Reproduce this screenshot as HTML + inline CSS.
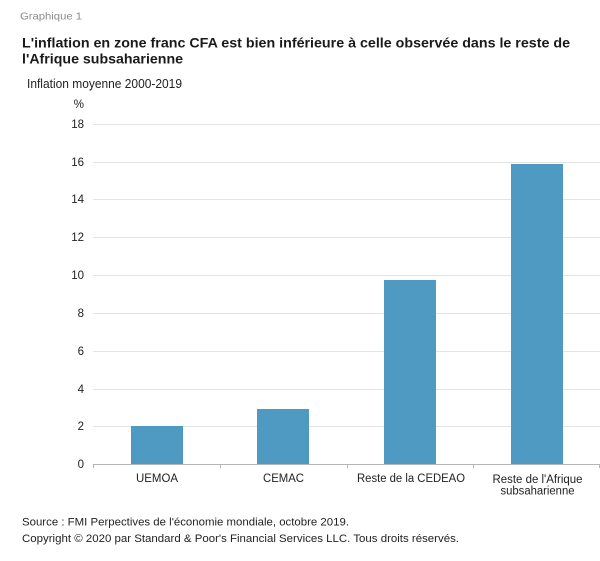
<!DOCTYPE html>
<html>
<head>
<meta charset="utf-8">
<style>
html,body{margin:0;padding:0;background:#fff;}
svg{display:block;}
text{font-family:"Liberation Sans",Arial,sans-serif;}
</style>
</head>
<body>
<svg width="600" height="561" viewBox="0 0 600 561" xmlns="http://www.w3.org/2000/svg">
<rect width="600" height="561" fill="#fff"/>
<text x="20" y="19.5" font-size="10.5" fill="#8a8a8a" textLength="62" lengthAdjust="spacingAndGlyphs">Graphique 1</text>
<text x="22" y="47.5" font-size="14" font-weight="bold" fill="#1a1a1a" textLength="548" lengthAdjust="spacingAndGlyphs">L'inflation en zone franc CFA est bien inférieure à celle observée dans le reste de</text>
<text x="22" y="63.5" font-size="14" font-weight="bold" fill="#1a1a1a" textLength="161" lengthAdjust="spacingAndGlyphs">l'Afrique subsaharienne</text>
<text x="27" y="88" font-size="12.5" fill="#222" textLength="155" lengthAdjust="spacingAndGlyphs">Inflation moyenne 2000-2019</text>
<text x="84" y="108" font-size="11.5" fill="#222" text-anchor="end">%</text>

<g stroke="#e4e4e4" stroke-width="1">
<line x1="93" y1="124.5" x2="600" y2="124.5"/>
<line x1="93" y1="162.5" x2="600" y2="162.5"/>
<line x1="93" y1="199.5" x2="600" y2="199.5"/>
<line x1="93" y1="237.5" x2="600" y2="237.5"/>
<line x1="93" y1="275.5" x2="600" y2="275.5"/>
<line x1="93" y1="313.5" x2="600" y2="313.5"/>
<line x1="93" y1="351.5" x2="600" y2="351.5"/>
<line x1="93" y1="389.5" x2="600" y2="389.5"/>
<line x1="93" y1="426.5" x2="600" y2="426.5"/>
</g>

<g font-size="11.5" fill="#222" text-anchor="end">
<text x="84" y="128">18</text>
<text x="84" y="166">16</text>
<text x="84" y="203">14</text>
<text x="84" y="241">12</text>
<text x="84" y="279">10</text>
<text x="84" y="317">8</text>
<text x="84" y="355">6</text>
<text x="84" y="393">4</text>
<text x="84" y="430">2</text>
<text x="84" y="468">0</text>
</g>

<g fill="#4e9ac3">
<rect x="131" y="426" width="52" height="38"/>
<rect x="257" y="409" width="52" height="55"/>
<rect x="384" y="280" width="52" height="184"/>
<rect x="511" y="164" width="52" height="300"/>
</g>

<g stroke="#b5b5b5" stroke-width="1">
<line x1="93" y1="464.5" x2="600" y2="464.5"/>
<line x1="93.5" y1="464" x2="93.5" y2="468"/>
<line x1="220.5" y1="464" x2="220.5" y2="468"/>
<line x1="347.5" y1="464" x2="347.5" y2="468"/>
<line x1="473.5" y1="464" x2="473.5" y2="468"/>
<line x1="599.5" y1="464" x2="599.5" y2="468"/>
</g>

<g font-size="11.5" fill="#222" text-anchor="middle">
<text x="157" y="482" textLength="42" lengthAdjust="spacingAndGlyphs">UEMOA</text>
<text x="283.5" y="482" textLength="41" lengthAdjust="spacingAndGlyphs">CEMAC</text>
<text x="411" y="482" textLength="108" lengthAdjust="spacingAndGlyphs">Reste de la CEDEAO</text>
<text x="537.5" y="483" textLength="90" lengthAdjust="spacingAndGlyphs">Reste de l'Afrique</text>
<text x="537.5" y="494.5" textLength="74" lengthAdjust="spacingAndGlyphs">subsaharienne</text>
</g>

<text x="22" y="525.5" font-size="11" fill="#222" textLength="327" lengthAdjust="spacingAndGlyphs">Source : FMI Perpectives de l'économie mondiale, octobre 2019.</text>
<text x="22" y="542" font-size="11" fill="#222" textLength="437" lengthAdjust="spacingAndGlyphs">Copyright © 2020 par Standard &amp; Poor's Financial Services LLC. Tous droits réservés.</text>
</svg>
</body>
</html>
